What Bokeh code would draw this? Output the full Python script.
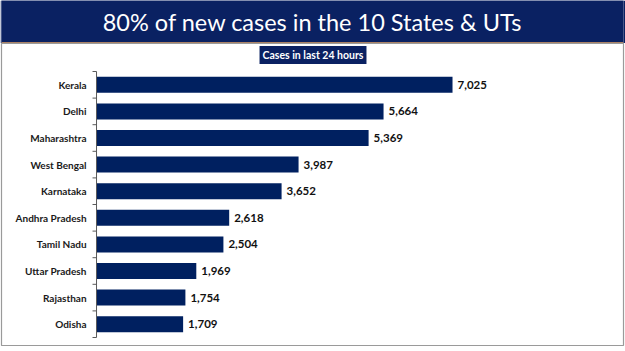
from bokeh.plotting import figure
from bokeh.layouts import column
from bokeh.models import ColumnDataSource, Range1d, Label
from bokeh.core.properties import value
from bokeh.embed import file_html
from bokeh.resources import INLINE
import math

# ---- data ----
states = ["Kerala", "Delhi", "Maharashtra", "West Bengal", "Karnataka",
          "Andhra Pradesh", "Tamil Nadu", "Uttar Pradesh", "Rajasthan", "Odisha"]
cases = [7025, 5664, 5369, 3987, 3652, 2618, 2504, 1969, 1754, 1709]
title_text = "80% of new cases in the 10 States & UTs"
subtitle_text = "Cases in last 24 hours"

NAVY = "#0a2162"
BAR = "#002060"
FONT = "Lato"

# ---- header ----
hdr = figure(width=625, height=43, x_range=Range1d(0, 1), y_range=Range1d(0, 43),
             toolbar_location=None, output_backend="svg",
             min_border_left=0, min_border_right=0, min_border_top=0, min_border_bottom=0,
             x_axis_location=None, y_axis_location=None,
             background_fill_color=NAVY, border_fill_color=NAVY, outline_line_color=None)
hdr.xgrid.visible = False
hdr.ygrid.visible = False
hdr.quad(left=[0], right=[1], bottom=[0], top=[1.3], fill_color="#e3a468", line_color=None)
hdr.text(x=[0.5], y=[22], text=[title_text], text_align="center", text_baseline="middle",
         text_color="white", text_font=value(FONT), text_font_size="23.5px")

# ---- main chart ----
n = len(states)
ypos = [n - 1 - i + 0.5 for i in range(n)]
src = ColumnDataSource(dict(
    state=states, cases=cases, y=ypos, zero=[0] * n,
    lbl=[f"{v:,}" for v in cases],
))

p = figure(width=625, height=308,
           x_range=Range1d(-1875, 10399), y_range=Range1d(-0.3008, 11.0526),
           toolbar_location=None, output_backend="svg",
           min_border_left=1, min_border_right=2, min_border_top=0, min_border_bottom=6,
           x_axis_location=None, y_axis_location=None,
           background_fill_color="white", border_fill_color="white",
           outline_line_color="#9a9a9a", outline_line_width=1.2)
p.xgrid.visible = False
p.ygrid.visible = False

p.hbar(y="y", left="zero", right="cases", height=0.6, source=src,
       fill_color=BAR, line_color=None)

# category axis line and ticks (between categories)
p.segment(x0=[0], y0=[0], x1=[0], y1=[n], line_color="#5a5a5a", line_width=1)
p.ray(x=[0] * (n + 1), y=list(range(n + 1)), length=4, length_units="screen",
      angle=math.pi, line_color="#5a5a5a", line_width=1)

# category labels
p.text(x="zero", y="y", text="state", source=src, x_offset=-10,
       text_align="right", text_baseline="middle", text_color="#1a1a1a",
       text_font=value(FONT), text_font_style="bold", text_font_size="10px")

# value labels
p.text(x="cases", y="y", text="lbl", source=src, x_offset=5,
       text_align="left", text_baseline="middle", text_color="#111111",
       text_font=value(FONT), text_font_style="bold", text_font_size="11.5px")

# subtitle box
p.add_layout(Label(x=4272, y=10.62, text=subtitle_text, text_align="center",
                   text_baseline="middle", text_color="white", text_font=FONT,
                   text_font_style="bold", text_font_size="10.5px",
                   background_fill_color=NAVY, padding=3))

layout = column(hdr, p, spacing=0)
open("out.html", "w").write(file_html(layout, INLINE))
